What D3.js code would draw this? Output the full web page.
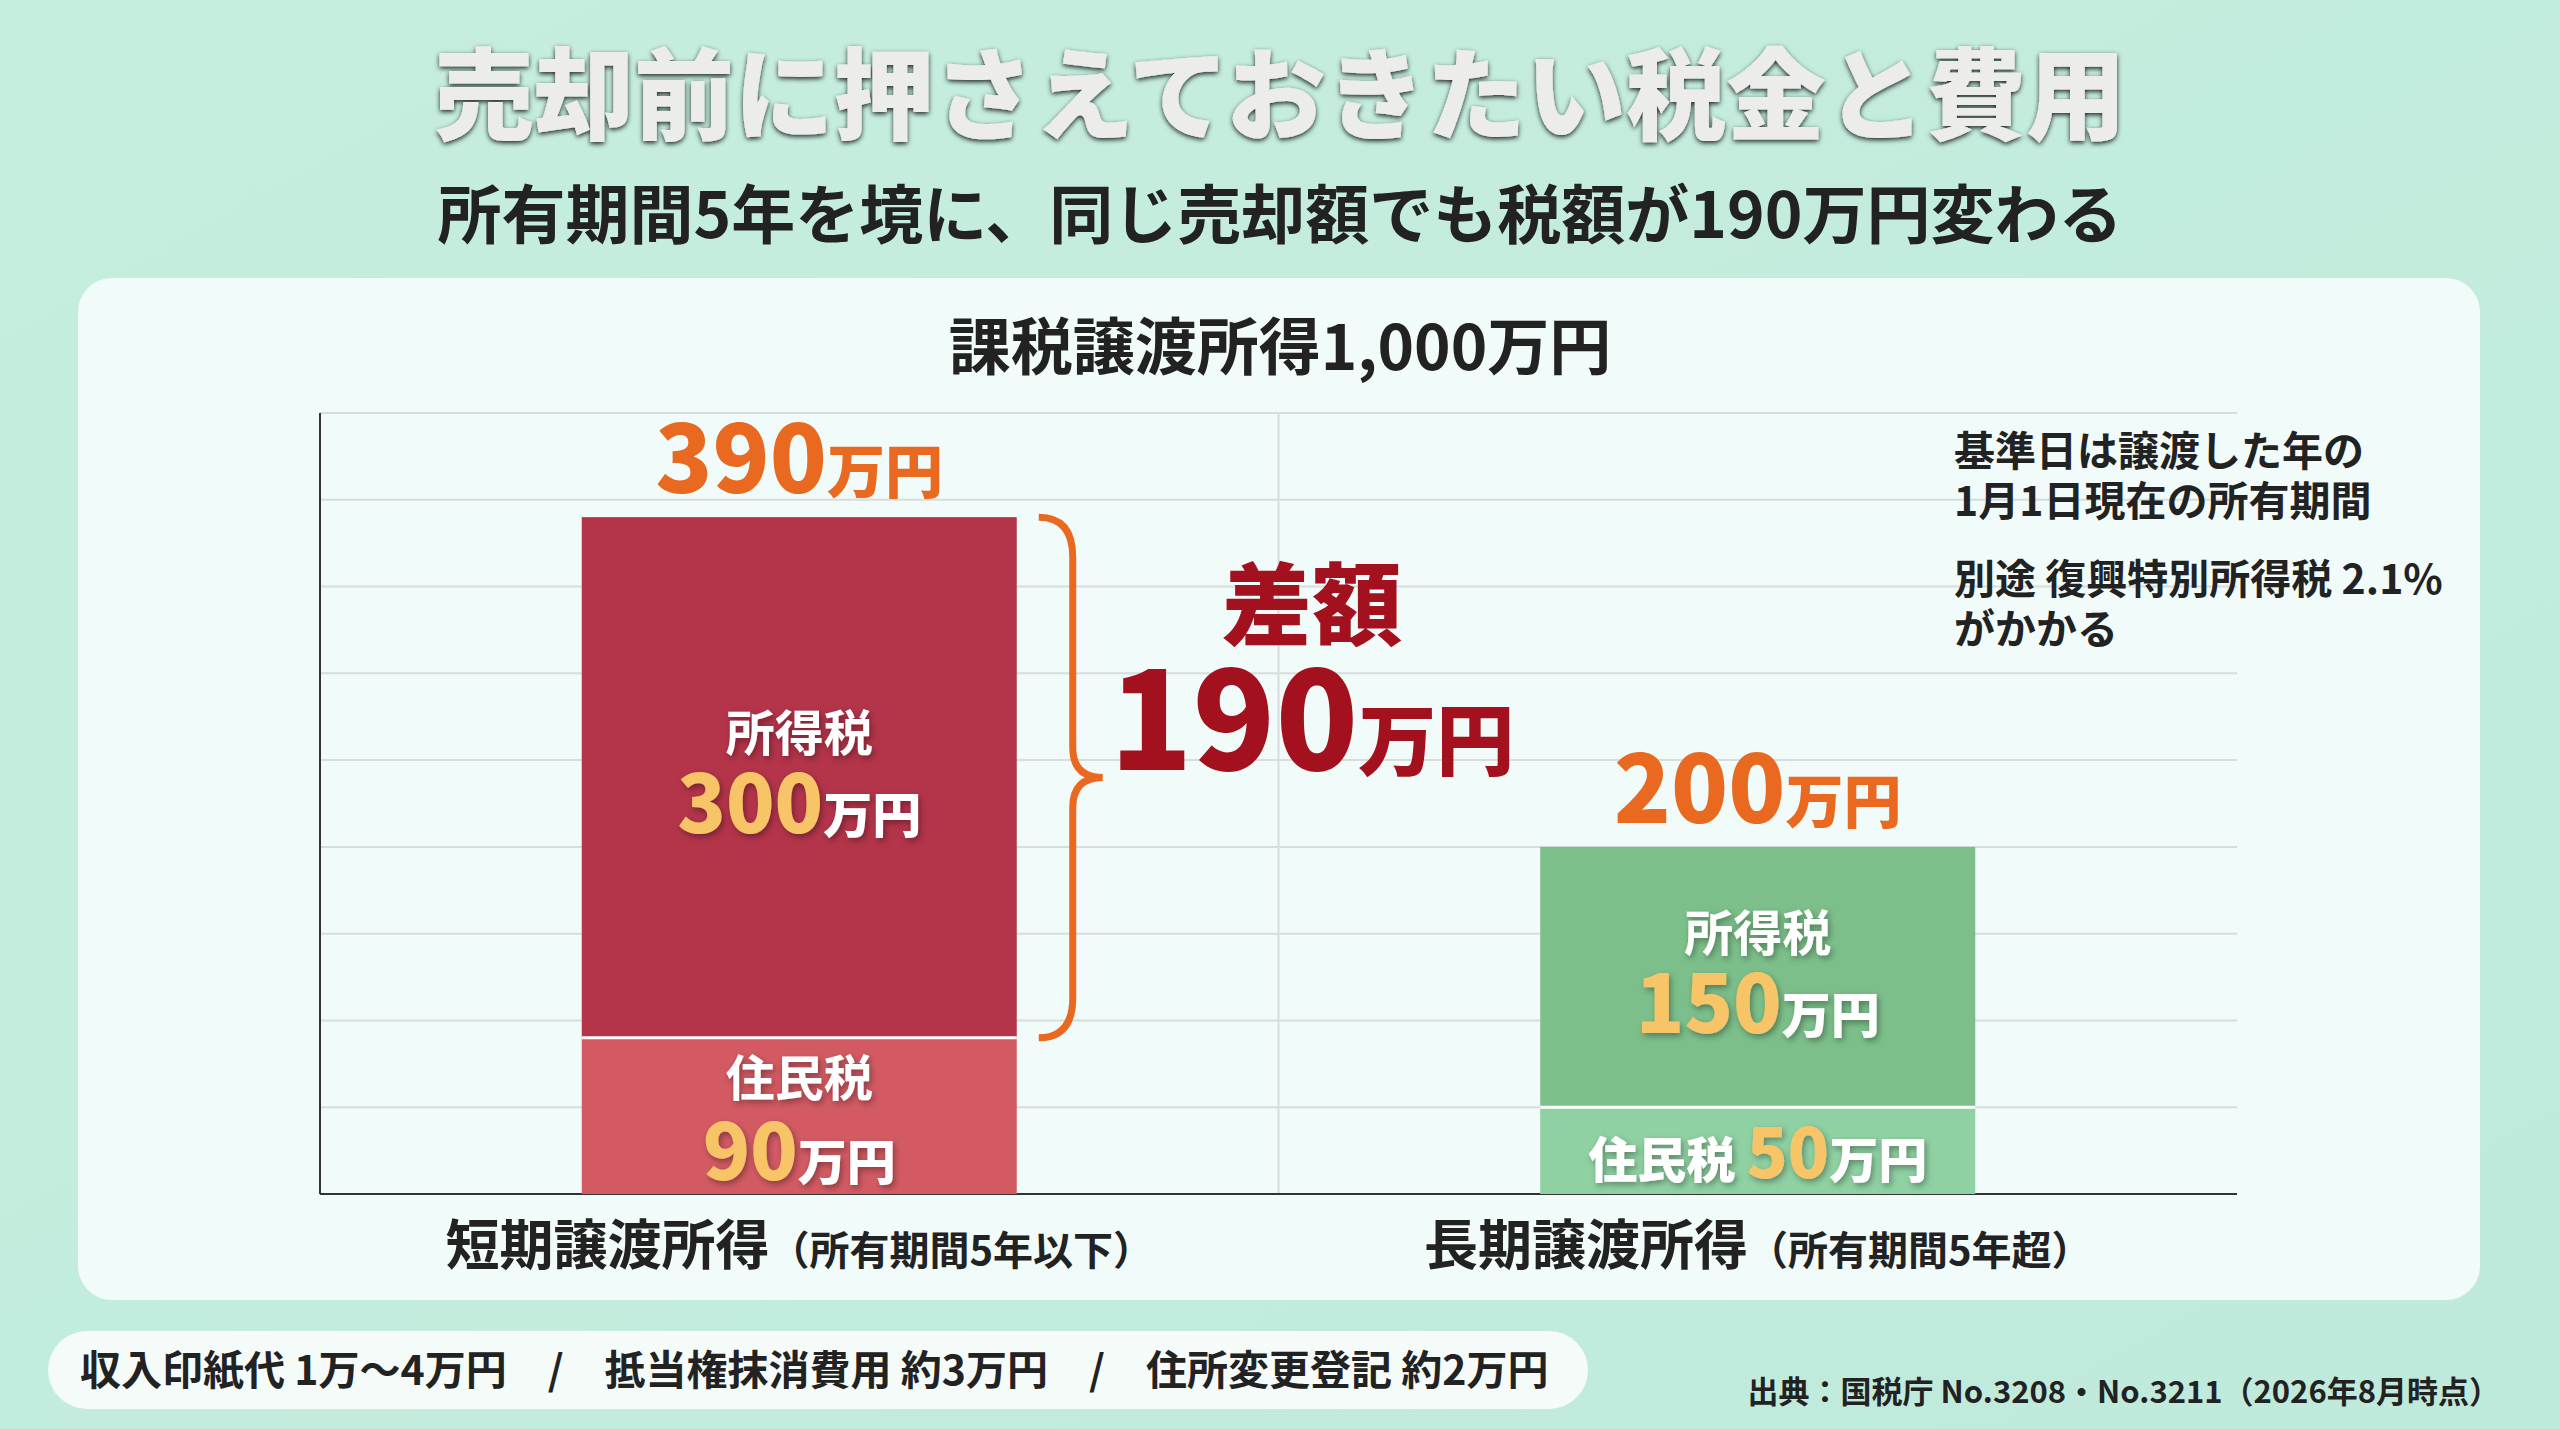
<!DOCTYPE html>
<html><head><meta charset="utf-8">
<script src="https://cdn.jsdelivr.net/npm/d3@7"></script>
<style>
body{margin:0;width:2560px;height:1429px;overflow:hidden;font-family:"Noto Sans CJK JP","Noto Sans",sans-serif;}
</style></head><body>
<svg id="c" width="2560" height="1429"></svg>
<script>
const categories = ["短期譲渡所得", "長期譲渡所得"];
const subLabels = ["（所有期間5年以下）", "（所有期間5年超）"];
const residentTax = [90, 50];
const incomeTax = [300, 150];
const yTicks = [0, 50, 100, 150, 200, 250, 300, 350, 400, 450];
const notes = [["基準日は譲渡した年の", "1月1日現在の所有期間"], ["別途 復興特別所得税 2.1%", "がかかる"]];
const costs = "収入印紙代 1万〜4万円　/　抵当権抹消費用 約3万円　/　住所変更登記 約2万円";

const svg = d3.select("#c");
const defs = svg.append("defs");
const bg = defs.append("linearGradient").attr("id", "bg").attr("x1", 0).attr("y1", 0).attr("x2", 1).attr("y2", 1);
bg.append("stop").attr("offset", 0).attr("stop-color", "#c6eedf");
bg.append("stop").attr("offset", 1).attr("stop-color", "#bfeadb");
const sh = defs.append("filter").attr("id", "sh").attr("x", -0.1).attr("y", -0.3).attr("width", 1.2).attr("height", 1.6);
sh.append("feDropShadow").attr("dx", 2).attr("dy", 3).attr("stdDeviation", 3).attr("flood-color", "#000").attr("flood-opacity", 0.35);
const tsh = defs.append("filter").attr("id", "tsh").attr("x", -0.1).attr("y", -0.3).attr("width", 1.2).attr("height", 1.6);
tsh.append("feDropShadow").attr("dx", 0).attr("dy", 2).attr("stdDeviation", 2.5).attr("flood-color", "#000").attr("flood-opacity", 0.85);

svg.append("rect").attr("width", 2560).attr("height", 1429).attr("fill", "url(#bg)");

// headings
svg.append("text").attr("x", 1280).attr("y", 132).attr("text-anchor", "middle")
  .attr("font-size", 100).attr("font-weight", 900).attr("fill", "#ececea").attr("filter", "url(#tsh)")
  .text("売却前に押さえておきたい税金と費用");
svg.append("text").attr("x", 1280).attr("y", 238).attr("text-anchor", "middle")
  .attr("font-size", 64).attr("font-weight", 700).attr("fill", "#222")
  .text("所有期間5年を境に、同じ売却額でも税額が190万円変わる");

// card
svg.append("rect").attr("x", 78).attr("y", 278).attr("width", 2402).attr("height", 1022).attr("rx", 34)
  .attr("fill", "#f1fbfa");
svg.append("text").attr("x", 1280).attr("y", 370).attr("text-anchor", "middle")
  .attr("font-size", 62).attr("font-weight", 700).attr("fill", "#222").text("課税譲渡所得1,000万円");

const L = 320, R = 2237, T = 413, B = 1194;
const x = d3.scaleBand().domain(categories).range([L, R]).paddingInner(0).paddingOuter(0);
const y = d3.scaleLinear().domain([0, 450]).range([B, T]);
const bw = 435;

const grid = svg.append("g");
grid.selectAll("line.h").data(yTicks).join("line")
  .attr("x1", L).attr("x2", R).attr("y1", d => y(d)).attr("y2", d => y(d))
  .attr("stroke", "#d8dcdc").attr("stroke-width", 2);
grid.append("line").attr("x1", L + x.bandwidth()).attr("x2", L + x.bandwidth()).attr("y1", T).attr("y2", B)
  .attr("stroke", "#d8dcdc").attr("stroke-width", 2);
svg.append("line").attr("x1", L).attr("x2", L).attr("y1", T).attr("y2", B).attr("stroke", "#333").attr("stroke-width", 2);
svg.append("line").attr("x1", L).attr("x2", R).attr("y1", B).attr("y2", B).attr("stroke", "#333").attr("stroke-width", 2);

const colTop = ["#b4344a", "#7cbf8a"], colBot = ["#d35a63", "#8fd1a2"];
categories.forEach((c, i) => {
  const cx = x(c) + x.bandwidth() / 2, x0 = cx - bw / 2;
  const r = residentTax[i], t = incomeTax[i], tot = r + t;
  svg.append("rect").attr("x", x0).attr("width", bw).attr("y", y(r)).attr("height", y(0) - y(r)).attr("fill", colBot[i]);
  svg.append("rect").attr("x", x0).attr("width", bw).attr("y", y(tot)).attr("height", y(r) - y(tot)).attr("fill", colTop[i]);
  svg.append("line").attr("x1", x0).attr("x2", x0 + bw).attr("y1", y(r)).attr("y2", y(r)).attr("stroke", "#fff").attr("stroke-width", 3);

  // total
  const tt = svg.append("text").attr("x", cx).attr("y", y(tot) - 24).attr("text-anchor", "middle")
    .attr("font-weight", 900).attr("fill", "#e8691f");
  tt.append("tspan").attr("font-size", 94).text(tot);
  tt.append("tspan").attr("font-size", 58).text("万円");

  // income tax label
  const my = (y(tot) + y(r)) / 2;
  svg.append("text").attr("x", cx).attr("y", my - 26).attr("text-anchor", "middle").attr("font-size", 49)
    .attr("font-weight", 700).attr("fill", "#fff").attr("filter", "url(#sh)").text("所得税");
  const it = svg.append("text").attr("x", cx).attr("y", my + 56).attr("text-anchor", "middle")
    .attr("font-weight", 800).attr("filter", "url(#sh)");
  it.append("tspan").attr("font-size", 80).attr("fill", "#f7c468").text(t);
  it.append("tspan").attr("font-size", 49).attr("fill", "#fff").text("万円");

  // resident tax label
  if (i === 0) {
    svg.append("text").attr("x", cx).attr("y", y(r) + 58).attr("text-anchor", "middle").attr("font-size", 49)
      .attr("font-weight", 700).attr("fill", "#fff").attr("filter", "url(#sh)").text("住民税");
    const rt = svg.append("text").attr("x", cx).attr("y", y(0) - 14).attr("text-anchor", "middle")
      .attr("font-weight", 800).attr("filter", "url(#sh)");
    rt.append("tspan").attr("font-size", 78).attr("fill", "#f7c468").text(r);
    rt.append("tspan").attr("font-size", 49).attr("fill", "#fff").text("万円");
  } else {
    const rt = svg.append("text").attr("x", cx).attr("y", y(0) - 16).attr("text-anchor", "middle")
      .attr("font-weight", 800).attr("filter", "url(#sh)");
    rt.append("tspan").attr("font-size", 49).attr("fill", "#fff").text("住民税 ");
    rt.append("tspan").attr("font-size", 68).attr("fill", "#f7c468").text(r);
    rt.append("tspan").attr("font-size", 49).attr("fill", "#fff").text("万円");
  }

  // x label
  const xl = svg.append("text").attr("x", cx).attr("y", 1265).attr("text-anchor", "middle").attr("fill", "#222").attr("font-weight", 700);
  xl.append("tspan").attr("font-size", 54).text(c);
  xl.append("tspan").attr("font-size", 40).text(subLabels[i]);
});

// brace
const bx = x(categories[0]) + x.bandwidth() / 2 + bw / 2 + 22;
const y1 = y(residentTax[0] + incomeTax[0]), y2 = y(residentTax[0]), ym = (y1 + y2) / 2, w = 34;
svg.append("path").attr("fill", "none").attr("stroke", "#e8691f").attr("stroke-width", 7)
  .attr("d", `M${bx},${y1} Q${bx + w},${y1} ${bx + w},${y1 + 40} L${bx + w},${ym - 30} Q${bx + w},${ym} ${bx + w + 30},${ym} Q${bx + w},${ym} ${bx + w},${ym + 30} L${bx + w},${y2 - 40} Q${bx + w},${y2} ${bx},${y2}`);

const diff = (residentTax[0] + incomeTax[0]) - (residentTax[1] + incomeTax[1]);
svg.append("text").attr("x", 1312).attr("y", 638).attr("text-anchor", "middle").attr("font-size", 90)
  .attr("font-weight", 900).attr("fill", "#a3111f").text("差額");
const dt = svg.append("text").attr("x", 1312).attr("y", 770).attr("text-anchor", "middle").attr("font-weight", 900).attr("fill", "#a3111f");
dt.append("tspan").attr("font-size", 136).text(diff);
dt.append("tspan").attr("font-size", 78).text("万円");

// notes
const ny = [[466, 516], [594, 644]];
notes.forEach((n, i) => n.forEach((s, j) => {
  svg.append("text").attr("x", 1954).attr("y", ny[i][j]).attr("font-size", 41).attr("font-weight", 700).attr("fill", "#222").text(s);
}));

// bottom pill
svg.append("rect").attr("x", 48).attr("y", 1331).attr("width", 1540).attr("height", 78).attr("rx", 39).attr("fill", "#f4fbf9");
svg.append("text").attr("x", 80).attr("y", 1385).attr("font-size", 41).attr("font-weight", 700).attr("fill", "#222").text(costs);
svg.append("text").attr("x", 2500).attr("y", 1403).attr("text-anchor", "end").attr("font-size", 31).attr("font-weight", 700)
  .attr("fill", "#222").text("出典：国税庁 No.3208・No.3211（2026年8月時点）");
</script>
</body></html>
